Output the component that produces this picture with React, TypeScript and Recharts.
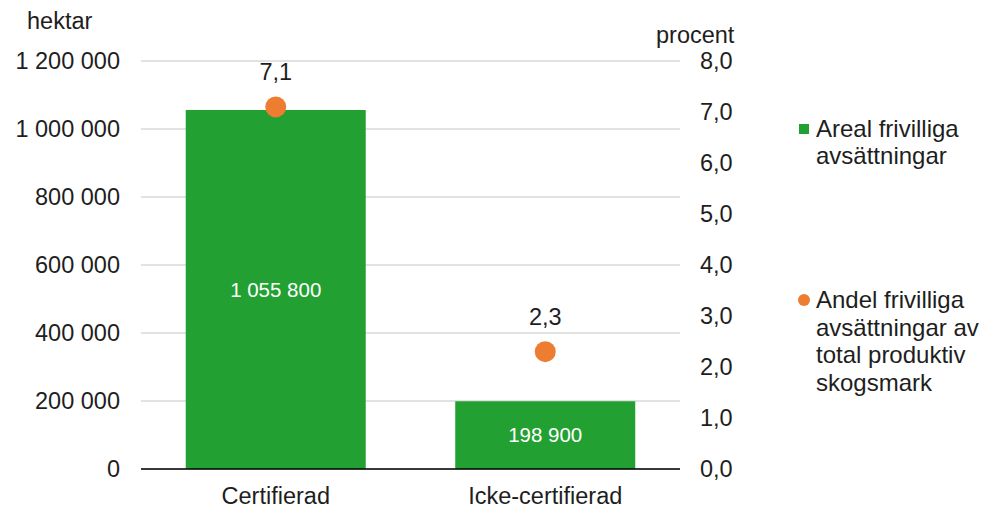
import React from 'react';
import { ComposedChart, Bar, Line, XAxis, YAxis, CartesianGrid, LabelList } from 'recharts';

const categories = ['Certifierad', 'Icke-certifierad'];
const arealValues = [1055800, 198900];
const andelValues = [7.1, 2.3];
const leftTicks = [0, 200000, 400000, 600000, 800000, 1000000, 1200000];
const rightTicks = [0, 1, 2, 3, 4, 5, 6, 7, 8];

const data = categories.map((c, i) => ({ name: c, areal: arealValues[i], andel: andelValues[i] }));

const FONT = 'Liberation Sans, Arial, sans-serif';
const TEXT = '#1e1e1e';
const GREEN = '#22A132';
const ORANGE = '#ED7D31';
const FS = 23.5;

const fmtInt = (v: number) => String(Math.round(v)).replace(/\B(?=(\d{3})+(?!\d))/g, ' ');
const fmtDec = (v: number) => v.toFixed(1).replace('.', ',');

export default function App() {
  return (
    <div style={{ position: 'absolute', left: 0, top: 0, width: 983, height: 511, fontFamily: FONT, color: TEXT, background: '#fff' }}>
      <ComposedChart
        width={983}
        height={511}
        data={data}
        margin={{ top: 61, right: 223, bottom: 0, left: 21 }}
        barCategoryGap="16.6%"
      >
        <CartesianGrid horizontal vertical={false} stroke="#d9d9d9" strokeWidth={1.5} yAxisId="left" />
        <XAxis
          dataKey="name"
          height={42}
          tickLine={false}
          tickSize={0}
          tickMargin={18}
          axisLine={{ stroke: '#000', strokeWidth: 1.5 }}
          tick={{ fill: TEXT, fontSize: FS, fontFamily: FONT }}
        />
        <YAxis
          yAxisId="left"
          orientation="left"
          width={120}
          domain={[0, 1200000]}
          ticks={leftTicks}
          tickFormatter={fmtInt}
          axisLine={false}
          tickLine={false}
          tickSize={0}
          tickMargin={21}
          tick={{ fill: TEXT, fontSize: FS, fontFamily: FONT }}
        />
        <YAxis
          yAxisId="right"
          orientation="right"
          width={80}
          domain={[0, 8]}
          ticks={rightTicks}
          tickFormatter={fmtDec}
          axisLine={false}
          tickLine={false}
          tickSize={0}
          tickMargin={20}
          tick={{ fill: TEXT, fontSize: FS, fontFamily: FONT }}
        />
        <Bar yAxisId="left" dataKey="areal" fill={GREEN} isAnimationActive={false}>
          <LabelList dataKey="areal" position="center" formatter={(v: any) => fmtInt(Number(v))} fill="#ffffff" fontSize={20.5} fontFamily={FONT} />
        </Bar>
        <Line
          yAxisId="right"
          dataKey="andel"
          stroke="none"
          dot={{ r: 10.5, fill: ORANGE, stroke: ORANGE, strokeWidth: 0 }}
          activeDot={false}
          isAnimationActive={false}
        >
          <LabelList dataKey="andel" position="top" offset={27} formatter={(v: any) => fmtDec(Number(v))} fill={TEXT} fontSize={FS} fontFamily={FONT} />
        </Line>
      </ComposedChart>
      <div style={{ position: 'absolute', left: 27, top: 7, fontSize: FS, lineHeight: '28px' }}>hektar</div>
      <div style={{ position: 'absolute', left: 656, top: 21, fontSize: FS, lineHeight: '28px' }}>procent</div>
      <div style={{ position: 'absolute', left: 799, top: 115, fontSize: 24, lineHeight: '27px', width: 184 }}>
        <div style={{ display: 'flex' }}>
          <div style={{ width: 10, height: 10, background: GREEN, marginTop: 9, marginRight: 7, flex: 'none' }} />
          <div>Areal frivilliga<br />avsättningar</div>
        </div>
      </div>
      <div style={{ position: 'absolute', left: 798, top: 286, fontSize: 24, lineHeight: '27.5px', width: 185 }}>
        <div style={{ display: 'flex' }}>
          <div style={{ width: 12, height: 12, borderRadius: 6, background: ORANGE, marginTop: 8, marginRight: 6, flex: 'none' }} />
          <div style={{ whiteSpace: 'nowrap' }}>Andel frivilliga<br />avsättningar av<br />total produktiv<br />skogsmark</div>
        </div>
      </div>
    </div>
  );
}
